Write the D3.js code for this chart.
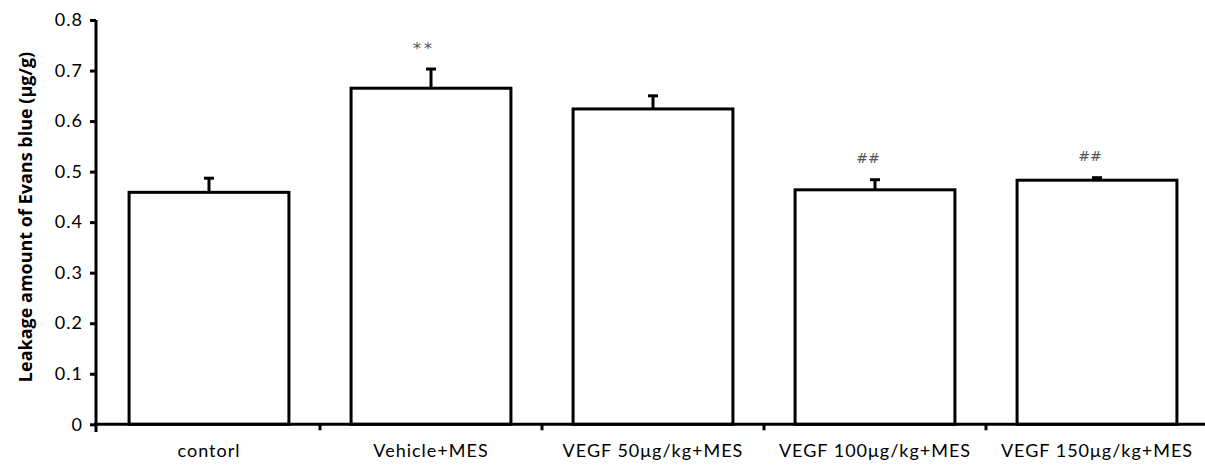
<!DOCTYPE html>
<html><head><meta charset="utf-8">
<script src="https://cdn.jsdelivr.net/npm/d3@7"></script>
<style>body{margin:0;background:#fff}svg{display:block}</style>
</head><body>
<svg id="c" width="1205" height="465"></svg>
<script>
const categories = ["contorl","Vehicle+MES","VEGF 50μg/kg+MES","VEGF 100μg/kg+MES","VEGF 150μg/kg+MES"];
const means = [0.459, 0.665, 0.624, 0.464, 0.483];
const errors = [0.028, 0.038, 0.026, 0.020, 0.005];
const marks = ["", "**", "", "##", "##"];
const yTicks = [0,0.1,0.2,0.3,0.4,0.5,0.6,0.7,0.8];
const yLabel = "Leakage amount of Evans blue (μg/g)";

const svg = d3.select("#c");
const font = "Lato, 'Open Sans', sans-serif";
const y = d3.scaleLinear().domain([0,0.8]).range([424.3,20]);
const x = d3.scaleBand().domain(categories).range([98,1208]).paddingInner(0.28).paddingOuter(0.14);

// bars
svg.append("g").selectAll("rect").data(categories).join("rect")
  .attr("x", d=>x(d)).attr("y", (d,i)=>y(means[i]))
  .attr("width", x.bandwidth()).attr("height", (d,i)=>y(0)-y(means[i]))
  .attr("fill","#fff").attr("stroke","#000").attr("stroke-width",3);

// error bars
const eb = svg.append("g");
categories.forEach((c,i)=>{
  const cx = x(c)+x.bandwidth()/2;
  eb.append("line").attr("x1",cx).attr("x2",cx).attr("y1",y(means[i])).attr("y2",y(means[i]+errors[i]))
    .attr("stroke","#000").attr("stroke-width",3);
  eb.append("line").attr("x1",cx-5).attr("x2",cx+5).attr("y1",y(means[i]+errors[i])).attr("y2",y(means[i]+errors[i]))
    .attr("stroke","#000").attr("stroke-width",3);
  if (marks[i]) {
    const star = marks[i] === "**";
    eb.append("text").attr("x",cx-7).attr("y",y(means[i]+errors[i]) - (star ? 15 : 17))
      .attr("text-anchor","middle").attr("font-family","'DejaVu Sans', sans-serif")
      .attr("font-size", star ? 16 : 14).attr("letter-spacing", star ? 3 : 0)
      .attr("fill","#555").text(marks[i]);
  }
});

// y axis
const ya = svg.append("g").attr("transform","translate(96,0)")
  .call(d3.axisLeft(y).tickValues(yTicks).tickSize(6).tickPadding(7)
    .tickFormat(d=> d===0 ? "0" : d3.format(".1f")(d)));
ya.select(".domain").attr("d","M0,20V432").attr("stroke","#000").attr("stroke-width",3);
ya.selectAll(".tick line").attr("stroke","#000").attr("stroke-width",3);
ya.selectAll(".tick text").attr("font-family",font).attr("font-size",18)
  .attr("letter-spacing",1).attr("fill","#000");

// x axis
const xa = svg.append("g").attr("transform","translate(0,424.3)");
xa.append("line").attr("x1",94).attr("x2",1205).attr("y1",0).attr("y2",0).attr("stroke","#000").attr("stroke-width",3);
categories.slice(1).forEach(c=>{
  const bx = x(c) - x.step()*x.paddingInner()/2;
  xa.append("line").attr("x1",bx).attr("x2",bx).attr("y1",0).attr("y2",6).attr("stroke","#000").attr("stroke-width",3);
});
xa.selectAll("text.cl").data(categories).join("text").attr("class","cl")
  .attr("x", d=>x(d)+x.bandwidth()/2).attr("y",33)
  .attr("text-anchor","middle").attr("font-family",font).attr("font-size",18)
  .attr("letter-spacing",1).attr("fill","#000").text(d=>d);

// y label
svg.append("text").attr("transform","translate(32,217) rotate(-90)")
  .attr("text-anchor","middle").attr("font-family","'Open Sans', sans-serif").attr("font-weight","bold")
  .attr("font-size",18).attr("fill","#000").text(yLabel);
</script>
</body></html>
